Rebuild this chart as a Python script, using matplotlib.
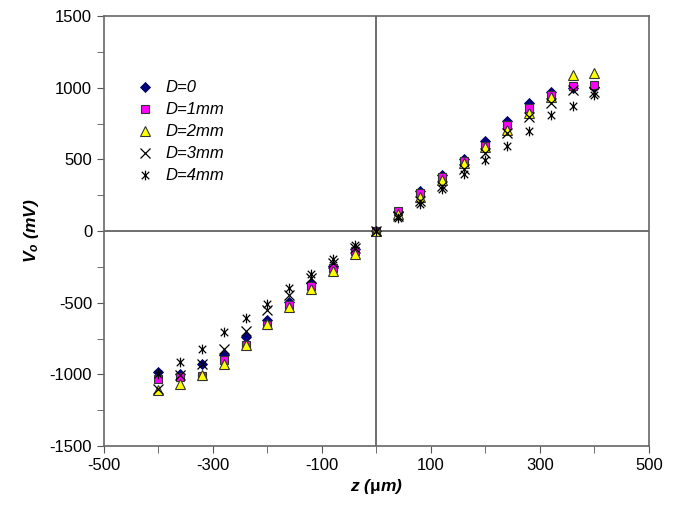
import matplotlib
matplotlib.use("Agg")
import matplotlib.pyplot as plt
from matplotlib.path import Path

plt.rcParams['font.family'] = ['Liberation Sans', 'DejaVu Sans']
plt.rcParams['mathtext.fontset'] = 'custom'
plt.rcParams['mathtext.it'] = 'Liberation Sans:italic:bold'
plt.rcParams['mathtext.rm'] = 'Liberation Sans:bold'
plt.rcParams['axes.unicode_minus'] = False

z = [-400, -360, -320, -280, -240, -200, -160, -120, -80, -40, 0,
     40, 80, 120, 160, 200, 240, 280, 320, 360, 400]

d0 = [-984, -998, -928, -865, -738, -619, -492, -365, -246, -127, 0,
      130, 281, 394, 500, 625, 765, 895, 968, 1000, 1005]
d1 = [-1033, -1019, -1015, -900, -794, -654, -513, -387, -260, -141, 0,
      138, 262, 375, 490, 595, 738, 860, 950, 1012, 1019]
d2 = [-1111, -1069, -1005, -928, -794, -647, -527, -408, -281, -162, 0,
      122, 238, 355, 475, 583, 703, 822, 935, 1088, 1104]
d3 = [-1104, -1005, -928, -822, -696, -548, -443, -330, -225, -120, 0,
      105, 211, 316, 436, 541, 682, 795, 893, 985, 970]
d4 = [-1000, -914, -822, -703, -605, -506, -400, -302, -197, -98, 0,
      92, 190, 295, 400, 495, 592, 698, 808, 872, 949]

labels = ['D=0', 'D=1mm', 'D=2mm', 'D=3mm', 'D=4mm']

# asterisk marker like Excel's: x with a vertical bar
star = Path([(-1, -1), (1, 1), (-1, 1), (1, -1), (0, -1.3), (0, 1.3)],
            [Path.MOVETO, Path.LINETO, Path.MOVETO, Path.LINETO, Path.MOVETO, Path.LINETO])

fig = plt.figure(figsize=(6.78, 5.07), dpi=100)
ax = fig.add_axes([0.1534, 0.1203, 0.8036, 0.8481])

ax.axhline(0, color='#555555', lw=1.2, zorder=1)
ax.axvline(0, color='#555555', lw=1.2, zorder=1)

ax.plot(z, d0, 'D', ms=5.2, mfc='#000080', mec='#000060', mew=0.6, ls='none', label=labels[0], zorder=3)
ax.plot(z, d1, 's', ms=5.8, mfc='#ff00ff', mec='#333333', mew=0.8, ls='none', label=labels[1], zorder=3)
ax.plot(z, d2, '^', ms=6.8, mfc='#ffff00', mec='#333333', mew=0.8, ls='none', label=labels[2], zorder=3)
ax.plot(z, d3, 'x', ms=6.5, mec='black', mew=0.9, ls='none', label=labels[3], zorder=4)
ax.plot(z, d4, marker=star, ms=7, mec='black', mew=0.9, ls='none', label=labels[4], zorder=4)

ax.set_xlim(-500, 500)
ax.set_ylim(-1500, 1500)
ax.set_xticks([-500, -300, -100, 100, 300, 500])
ax.set_xticks(range(-400, 500, 200), minor=True)
ax.set_yticks(range(-1500, 1501, 500))
ax.set_yticks(range(-1250, 1500, 500), minor=True)
ax.tick_params(which='both', direction='out', color='#555555', labelsize=12)
ax.tick_params(which='major', length=5)
ax.tick_params(which='minor', length=5)
for s in ax.spines.values():
    s.set_color('#666666')
    s.set_linewidth(1.2)

ax.set_xlabel(r'z ($\mathrm{\mu}$m)', fontsize=12.5, fontweight='bold', style='italic', labelpad=3)
ax.set_ylabel(r'$V_o$ (mV)', fontsize=12.5, fontweight='bold', style='italic', labelpad=6)

leg = ax.legend(loc='upper left', bbox_to_anchor=(0.03, 0.885), frameon=False,
                prop={'style': 'italic', 'size': 12}, handletextpad=0.6,
                labelspacing=0.42, handlelength=1.2)

fig.savefig('out.png', dpi=100)
